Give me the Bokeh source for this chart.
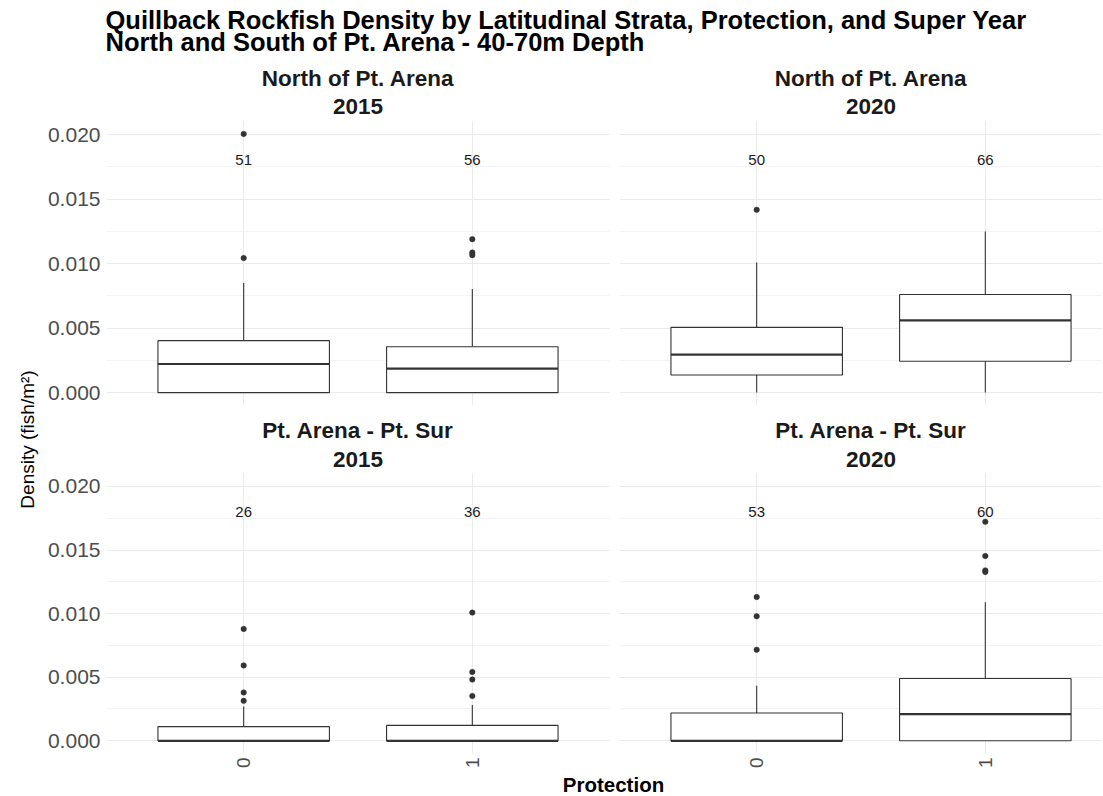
import math
from bokeh.plotting import figure
from bokeh.layouts import row, column
from bokeh.models import Range1d, FixedTicker, Grid, LinearAxis, PrintfTickFormatter, Label
from bokeh.core.properties import value
from bokeh.embed import file_html
from bokeh.resources import INLINE

# ---------------- data ----------------
title_lines = ["Quillback Rockfish Density by Latitudinal Strata, Protection, and Super Year",
               "North and South of Pt. Arena - 40-70m Depth"]
regions = ["North of Pt. Arena", "Pt. Arena - Pt. Sur"]
years = ["2015", "2020"]
protection = ["0", "1"]
y_label = "Density (fish/m\u00b2)"
x_label = "Protection"

# panels in order: (North,2015), (North,2020), (South,2015), (South,2020); inner lists = protection 0, 1
q1_vals = [[0.0, 0.0], [0.00137, 0.00243], [0.0, 0.0], [0.0, 0.0]]
median_vals = [[0.00222, 0.00186], [0.00294, 0.00560], [0.0, 0.0], [0.0, 0.00209]]
q3_vals = [[0.00403, 0.00356], [0.00506, 0.00761], [0.00111, 0.00121], [0.00219, 0.00490]]
whisker_lo = [[0.0, 0.0], [0.0, 0.0], [0.0, 0.0], [0.0, 0.0]]
whisker_hi = [[0.00849, 0.00803], [0.01009, 0.01250], [0.00270, 0.00281], [0.00433, 0.01090]]
outliers = [
    [[0.02006, 0.01043], [0.01190, 0.01086, 0.01066]],
    [[0.01417], []],
    [[0.00880, 0.00593, 0.00380, 0.00314], [0.01008, 0.00541, 0.00482, 0.00352]],
    [[0.01131, 0.00979, 0.00716], [0.01722, 0.01453, 0.01340, 0.01328]],
]
counts = [[51, 56], [50, 66], [26, 36], [53, 60]]
count_y = 0.018
y_ticks = [0.000, 0.005, 0.010, 0.015, 0.020]
y_minor = [0.0025, 0.0075, 0.0125, 0.0175]

# ---------------- style / layout ----------------
FONT = "Liberation Sans"
GRID = "#ebebeb"
INK = "#333333"
TICK = "#4d4d4d"
BOX_W = 0.75
Y_RANGE = (-0.001, 0.0211)
X_START, X_END_FULL = 0.4, 2.6

YLAB_W = 40
LEFT_W, RIGHT_W = 574, 488
LEFT_MBL, LEFT_MBR, RIGHT_MBL = 66, 5, 5
HEADER_H, STRIP_TOP_H, TOP_H, STRIP_BOT_H, BOT_H, FOOT_H = 64, 56, 285, 67, 299, 24
BOT_MBB = 15
TOTAL_W = YLAB_W + LEFT_W + RIGHT_W

left_frame = LEFT_W - LEFT_MBL - LEFT_MBR
px_per_unit = left_frame / (X_END_FULL - X_START)
right_frame = RIGHT_W - RIGHT_MBL
x_end_right = X_START + right_frame / px_per_unit

xpos = [i + 1 for i in range(len(protection))]


def blank(w, h):
    p = figure(width=w, height=h, x_range=Range1d(0, w), y_range=Range1d(0, h),
               toolbar_location=None, output_backend="svg", title_location=None,
               x_axis_location=None, y_axis_location=None, min_border=0,
               outline_line_color=None, background_fill_color="white", border_fill_color="white")
    p.xgrid.visible = False
    p.ygrid.visible = False
    return p


def make_panel(k, w, h, x_end, mbl, mbr, mbb, left_axis, bottom_axis):
    p = figure(width=w, height=h, x_range=Range1d(X_START, x_end), y_range=Range1d(*Y_RANGE),
               toolbar_location=None, output_backend="svg", title_location=None,
               x_axis_location=None, y_axis_location=None,
               min_border_left=mbl, min_border_right=mbr, min_border_top=0, min_border_bottom=mbb,
               outline_line_color=None, background_fill_color="white", border_fill_color="white")
    p.xgrid.visible = False
    p.ygrid.visible = False
    yt = FixedTicker(ticks=y_ticks, minor_ticks=y_minor)
    xt = FixedTicker(ticks=xpos)
    p.add_layout(Grid(dimension=1, ticker=yt, grid_line_color=GRID, grid_line_width=1.1,
                      minor_grid_line_color=GRID, minor_grid_line_width=0.6))
    p.add_layout(Grid(dimension=0, ticker=xt, grid_line_color=GRID, grid_line_width=1.1))
    if left_axis:
        ax = LinearAxis(ticker=yt, formatter=PrintfTickFormatter(format="%.3f"),
                        axis_line_color=None, major_tick_line_color=None, minor_tick_line_color=None,
                        major_tick_in=0, major_tick_out=0, minor_tick_in=0, minor_tick_out=0,
                        major_label_standoff=6, major_label_text_font=FONT,
                        major_label_text_font_size="21px", major_label_text_color=TICK)
        p.add_layout(ax, "left")
    if bottom_axis:
        bx = LinearAxis(ticker=xt, major_label_overrides={x: lab for x, lab in zip(xpos, protection)},
                        major_label_orientation=math.pi / 2,
                        axis_line_color=None, major_tick_line_color=None, minor_tick_line_color=None,
                        major_tick_in=0, major_tick_out=0, minor_tick_in=0, minor_tick_out=0,
                        major_label_standoff=4, major_label_text_font=FONT,
                        major_label_text_font_size="19px", major_label_text_color=TICK)
        p.add_layout(bx, "below")

    q1, md, q3 = q1_vals[k], median_vals[k], q3_vals[k]
    wlo, whi = whisker_lo[k], whisker_hi[k]
    p.segment(x0=xpos, y0=q3, x1=xpos, y1=whi, line_color=INK, line_width=1.1)
    p.segment(x0=xpos, y0=wlo, x1=xpos, y1=q1, line_color=INK, line_width=1.1)
    p.vbar(x=xpos, width=BOX_W, bottom=q1, top=q3, fill_color="white", line_color=INK, line_width=1.1)
    p.segment(x0=[x - BOX_W / 2 for x in xpos], x1=[x + BOX_W / 2 for x in xpos], y0=md, y1=md,
              line_color=INK, line_width=2.2)
    ox, oy = [], []
    for x, pts in zip(xpos, outliers[k]):
        ox += [x] * len(pts)
        oy += pts
    p.scatter(x=ox, y=oy, size=5.5, fill_color=INK, line_color=INK, line_width=0.5)
    p.text(x=xpos, y=[count_y] * len(xpos), text=[str(c) for c in counts[k]],
           text_font=value(FONT), text_font_size="15px", text_color="#1a1a1a",
           text_align="center", text_baseline="middle")
    return p


# header (main title); positions are centres measured from the top of the figure
header = blank(TOTAL_W, HEADER_H)
for txt, yc in zip(title_lines, [19, 41]):
    header.add_layout(Label(x=105, y=HEADER_H - yc, text=txt, text_font=FONT, text_font_style="bold",
                            text_font_size="25.5px", text_color="black",
                            text_align="left", text_baseline="middle"))

panel_w = LEFT_W + RIGHT_W
cx_left = LEFT_MBL + (1.5 - X_START) * px_per_unit
cx_right = LEFT_W + RIGHT_MBL + (1.5 - X_START) * px_per_unit


def strip(h, region, y1_from_top, y2_from_top):
    s = blank(panel_w, h)
    for cx, yr in zip([cx_left, cx_right], years):
        s.add_layout(Label(x=cx, y=h - y1_from_top, text=region, text_font=FONT, text_font_style="bold",
                           text_font_size="22.5px", text_color="#1a1a1a",
                           text_align="center", text_baseline="middle"))
        s.add_layout(Label(x=cx, y=h - y2_from_top, text=yr, text_font=FONT, text_font_style="bold",
                           text_font_size="22.5px", text_color="#1a1a1a",
                           text_align="center", text_baseline="middle"))
    return s


strip_top = strip(STRIP_TOP_H, regions[0], 14, 42)
strip_bot = strip(STRIP_BOT_H, regions[1], 25, 54)

tl = make_panel(0, LEFT_W, TOP_H, X_END_FULL, LEFT_MBL, LEFT_MBR, 0, True, False)
tr = make_panel(1, RIGHT_W, TOP_H, x_end_right, RIGHT_MBL, 0, 0, False, False)
bl = make_panel(2, LEFT_W, BOT_H, X_END_FULL, LEFT_MBL, LEFT_MBR, BOT_MBB, True, True)
br = make_panel(3, RIGHT_W, BOT_H, x_end_right, RIGHT_MBL, 0, BOT_MBB, False, True)

mid_h = STRIP_TOP_H + TOP_H + STRIP_BOT_H + BOT_H
ylab = blank(YLAB_W, mid_h)
ylab.add_layout(Label(x=27, y=mid_h - 375, text=y_label, angle=math.pi / 2, angle_units="rad",
                      text_font=FONT, text_font_size="19px", text_color="black",
                      text_align="center", text_baseline="middle"))

footer = blank(TOTAL_W, FOOT_H)
footer.add_layout(Label(x=613, y=FOOT_H - 13, text=x_label, text_font=FONT, text_font_style="bold",
                        text_font_size="20.5px", text_color="black",
                        text_align="center", text_baseline="middle"))

layout = column(header,
                row(ylab, column(strip_top, row(tl, tr), strip_bot, row(bl, br))),
                footer)

open("out.html", "w").write(file_html(layout, INLINE))
